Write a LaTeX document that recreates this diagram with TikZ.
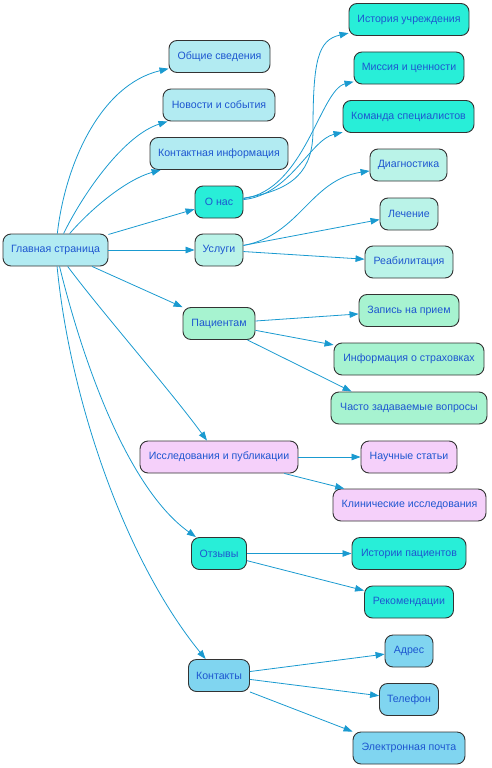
\documentclass[tikz,border=0pt]{standalone}
\usepackage{fontspec}
\setmainfont{Liberation Sans}
\usetikzlibrary{arrows.meta,calc}
\definecolor{edgec}{HTML}{1A9AD0}
\definecolor{txtc}{HTML}{1D56D0}
\definecolor{cMain}{HTML}{B2EBF2}
\definecolor{cTeal}{HTML}{28EED8}
\definecolor{cServ}{HTML}{BAF3E8}
\definecolor{cPat}{HTML}{A7F3D0}
\definecolor{cRes}{HTML}{F5D0FA}
\definecolor{cCont}{HTML}{80D5F0}
\begin{document}
\begin{tikzpicture}[x=1pt,y=-1pt,
  box/.style={draw=black!80, line width=0.9pt, rounded corners=8pt, minimum height=32pt,
    inner sep=0pt, text=txtc, font=\fontsize{10.6}{12}\selectfont},
  conn/.style={draw=edgec, line width=0.8pt, -{Triangle[length=9pt,width=6.5pt]}}]
\useasboundingbox (0,0) rectangle (491,768);

% level 0
\node[box, fill=cMain, minimum width=105pt] (main) at (55.5,250) {Главная страница};
% level 1
\node[box, fill=cMain, minimum width=101pt] (obsh) at (219.5,56.5) {Общие сведения};
\node[box, fill=cMain, minimum width=112pt] (nov) at (219,105) {Новости и события};
\node[box, fill=cMain, minimum width=138pt] (kinf) at (219,153.5) {Контактная информация};
\node[box, fill=cTeal, minimum width=48pt] (onas) at (219,202) {О нас};
\node[box, fill=cServ, minimum width=48pt] (usl) at (219,250) {Услуги};
\node[box, fill=cPat, minimum width=72pt] (pac) at (219,323.5) {Пациентам};
\node[box, fill=cRes, minimum width=158pt] (issl) at (219,457) {Исследования и публикации};
\node[box, fill=cTeal, minimum width=55pt] (otz) at (219,553.5) {Отзывы};
\node[box, fill=cCont, minimum width=61pt] (kont) at (219,675.5) {Контакты};
% level 2
\node[box, fill=cTeal, minimum width=120pt] (hist) at (409,19.5) {История учреждения};
\node[box, fill=cTeal, minimum width=110pt] (mis) at (409,68) {Миссия и ценности};
\node[box, fill=cTeal, minimum width=131pt] (kom) at (408.5,116.5) {Команда специалистов};
\node[box, fill=cServ, minimum width=77pt] (diag) at (408.5,165) {Диагностика};
\node[box, fill=cServ, minimum width=58pt] (lech) at (409,214) {Лечение};
\node[box, fill=cServ, minimum width=88pt] (reab) at (409,262) {Реабилитация};
\node[box, fill=cPat, minimum width=100pt] (zap) at (409,310.5) {Запись на прием};
\node[box, fill=cPat, minimum width=150pt] (strah) at (409,359) {Информация о страховках};
\node[box, fill=cPat, minimum width=156pt] (chasto) at (409,408) {Часто задаваемые вопросы};
\node[box, fill=cRes, minimum width=96pt] (nauch) at (409,457) {Научные статьи};
\node[box, fill=cRes, minimum width=153pt] (klin) at (409.5,505) {Клинические исследования};
\node[box, fill=cTeal, minimum width=114pt] (istp) at (409,553.5) {Истории пациентов};
\node[box, fill=cTeal, minimum width=89pt] (rek) at (409,602) {Рекомендации};
\node[box, fill=cCont, minimum width=48pt] (adr) at (409,651) {Адрес};
\node[box, fill=cCont, minimum width=59pt] (tel) at (409,699.5) {Телефон};
\node[box, fill=cCont, minimum width=112pt] (email) at (409,748) {Электронная почта};

% edges from main
\draw[conn] (main) .. controls (65,165) and (100,85) .. (obsh);
\draw[conn] (main) .. controls (85,190) and (125,135) .. (nov);
\draw[conn] (main) .. controls (90,210) and (125,180) .. (kinf);
\draw[conn] (main) -- (onas);
\draw[conn] (main) -- (usl);
\draw[conn] (main) -- (pac);
\draw[conn] (main) .. controls (100,310) and (170,390) .. (issl);
\draw[conn] (main) .. controls (85,370) and (130,490) .. (otz);
\draw[conn] (main) .. controls (70,400) and (125,560) .. (kont);

% О нас
\draw[conn] (onas) .. controls (295,190) and (313,170) .. (313,130)
  .. controls (313,60) and (318,40) .. (hist);
\draw[conn] (onas) .. controls (305,190) and (320,90) .. (mis);
\draw[conn] (onas) .. controls (290,195) and (310,140) .. (kom);

% Услуги
\draw[conn] (usl) .. controls (300,235) and (310,180) .. (diag);
\draw[conn] (usl) -- (lech);
\draw[conn] (usl) -- (reab);

% Пациентам
\draw[conn] (pac) -- (zap);
\draw[conn] (pac) -- (strah);
\draw[conn] ($(pac.south east)+(-8,0)$) -- ($(chasto.north west)+(21,0)$);

% Исследования
\draw[conn] (issl) -- (nauch);
\draw[conn] (issl) -- (klin);

% Отзывы
\draw[conn] (otz) -- (istp);
\draw[conn] (otz) -- (rek);

% Контакты
\draw[conn] (kont) -- (adr);
\draw[conn] (kont) -- (tel);
\draw[conn] (kont.south east) -- (email.north west);
\end{tikzpicture}
\end{document}
